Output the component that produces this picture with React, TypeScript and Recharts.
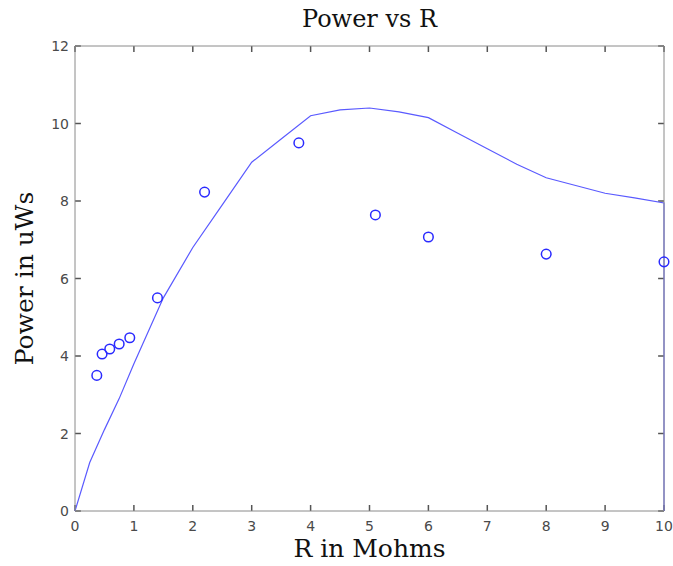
import { ComposedChart, Line, Scatter, XAxis, YAxis, ReferenceLine } from "recharts"

// fitted curve, R (Mohms) vs power (uW)
const curveR = [0, 0.25, 0.5, 0.75, 1, 1.5, 2, 2.5, 3, 3.5, 4, 4.5, 5, 5.5, 6, 6.5, 7, 7.5, 8, 8.5, 9, 9.5, 10, 10]
const curveP = [0, 1.25, 2.1, 2.9, 3.8, 5.5, 6.8, 7.9, 9.0, 9.6, 10.2, 10.35, 10.4, 10.3, 10.15, 9.75, 9.35, 8.95, 8.6, 8.4, 8.2, 8.08, 7.95, 0]

// measured points
const measR = [0.37, 0.46, 0.59, 0.75, 0.93, 1.4, 2.2, 3.8, 5.1, 6.0, 8.0, 10.0]
const measP = [3.5, 4.05, 4.18, 4.31, 4.47, 5.5, 8.23, 9.5, 7.64, 7.07, 6.63, 6.43]

const xTicks = [0, 1, 2, 3, 4, 5, 6, 7, 8, 9, 10]
const yTicks = [0, 2, 4, 6, 8, 10, 12]

const curveData = curveR.map((r, i) => ({ r, p: curveP[i] }))
const measData = measR.map((r, i) => ({ r, p: measP[i] }))

const frame = "#8a8a8a"
const markColor = "#555"
// inward tick length in data units (about 6px each way)
const xTickLen = 0.1
const yTickLen = 0.155
const tickFont = { fontFamily: "DejaVu Sans", fontSize: 14, fill: "#4a4a4a" }
const labelFont = { fontFamily: "DejaVu Serif", fill: "#111" }

const BottomTick = (props: any) => {
    const { x, y, payload } = props
    return <text x={x} y={y + 20} textAnchor="middle" {...tickFont}>{payload.value}</text>
}

const LeftTick = (props: any) => {
    const { x, y, payload } = props
    return <text x={x - 6} y={y + 5} textAnchor="end" {...tickFont}>{payload.value}</text>
}

const Marker = (props: any) => {
    const { cx, cy } = props
    return <circle cx={cx} cy={cy} r={4.8} fill="none" stroke="#2a2aff" strokeWidth={1.5} />
}

export default function App() {
    const tickMarks = [
        ...xTicks.map((t) => [{ x: t, y: 0 }, { x: t, y: yTickLen }]),
        ...xTicks.map((t) => [{ x: t, y: 12 }, { x: t, y: 12 - yTickLen }]),
        ...yTicks.map((t) => [{ x: 0, y: t }, { x: xTickLen, y: t }]),
        ...yTicks.map((t) => [{ x: 10, y: t }, { x: 10 - xTickLen, y: t }]),
    ]
    return (
        <div style={{ position: "absolute", left: 0, top: 0, background: "#fff" }}>
            <ComposedChart
                width={673}
                height={566}
                margin={{ top: 45, right: 8, bottom: 54, left: 74 }}
            >
                <XAxis
                    xAxisId="b"
                    type="number"
                    dataKey="r"
                    domain={[0, 10]}
                    ticks={xTicks}
                    height={1}
                    tickSize={0}
                    tickMargin={0}
                    tickLine={false}
                    stroke={frame}
                    tick={BottomTick}
                    label={{ value: "R in Mohms", position: "bottom", offset: 27, style: { ...labelFont, fontSize: 25 } }}
                />
                <XAxis
                    xAxisId="t"
                    orientation="top"
                    type="number"
                    domain={[0, 10]}
                    ticks={xTicks}
                    height={1}
                    tickLine={false}
                    stroke={frame}
                    tick={false}
                    label={{ value: "Power vs R", position: "top", offset: 18, style: { ...labelFont, fontSize: 24 } }}
                />
                <YAxis
                    yAxisId="l"
                    type="number"
                    domain={[0, 12]}
                    ticks={yTicks}
                    width={1}
                    tickSize={0}
                    tickMargin={0}
                    tickLine={false}
                    stroke={frame}
                    tick={LeftTick}
                    label={{ value: "Power in uWs", angle: -90, position: "left", offset: 50, style: { ...labelFont, fontSize: 25, textAnchor: "middle" } }}
                />
                <YAxis
                    yAxisId="r"
                    orientation="right"
                    type="number"
                    domain={[0, 12]}
                    ticks={yTicks}
                    width={1}
                    tickLine={false}
                    stroke={frame}
                    tick={false}
                />
                {tickMarks.map((seg, i) => (
                    <ReferenceLine
                        key={`tm-${i}`}
                        xAxisId="b"
                        yAxisId="l"
                        segment={seg}
                        stroke={markColor}
                        strokeWidth={1.5}
                        ifOverflow="visible"
                    />
                ))}
                <Line
                    xAxisId="b"
                    yAxisId="l"
                    data={curveData}
                    dataKey="p"
                    type="linear"
                    stroke="#5a5aff"
                    strokeWidth={1.2}
                    dot={false}
                    isAnimationActive={false}
                />
                <Scatter
                    xAxisId="b"
                    yAxisId="l"
                    data={measData}
                    dataKey="p"
                    shape={Marker}
                    isAnimationActive={false}
                />
            </ComposedChart>
        </div>
    )
}
